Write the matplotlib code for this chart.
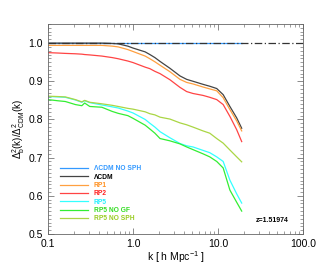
import numpy as np
import matplotlib
matplotlib.use("Agg")
import matplotlib.pyplot as plt
from matplotlib.ticker import MultipleLocator, FixedLocator, LogLocator, NullFormatter

# wavenumbers [h/Mpc]
k = [0.1, 0.13, 0.16, 0.21, 0.25, 0.27, 0.31, 0.43, 0.57, 0.67, 0.87, 1.0,
     1.39, 1.58, 1.81, 2.08, 2.72, 3.57, 4.28, 5.08, 6.66, 8.0, 9.66, 11.5,
     13.8, 16.6, 19.0]

lcdm_nosph = [1.0] * len(k)
lcdm = [1.0, 1.0, 1.0, 1.0, 1.0, 1.0, 1.0, 1.0, 0.999, 0.998, 0.992, 0.987,
        0.977, 0.970, 0.962, 0.952, 0.934, 0.914, 0.905, 0.900, 0.892, 0.887,
        0.881, 0.865, 0.834, 0.804, 0.777]
rp1 = [0.994, 0.994, 0.994, 0.994, 0.994, 0.994, 0.994, 0.994, 0.992, 0.990,
       0.983, 0.978, 0.966, 0.959, 0.951, 0.942, 0.925, 0.905, 0.897, 0.893,
       0.885, 0.880, 0.875, 0.857, 0.826, 0.796, 0.770]
rp2 = [0.975, 0.974, 0.973, 0.972, 0.971, 0.970, 0.969, 0.966, 0.962, 0.959,
       0.953, 0.949, 0.937, 0.933, 0.926, 0.920, 0.904, 0.884, 0.873, 0.868,
       0.863, 0.858, 0.852, 0.839, 0.808, 0.773, 0.742]
rp5 = [0.860, 0.859, 0.858, 0.851, 0.845, 0.849, 0.844, 0.838, 0.833, 0.830,
       0.822, 0.817, 0.800, 0.790, 0.780, 0.768, 0.752, 0.737, 0.731, 0.728,
       0.719, 0.713, 0.702, 0.690, 0.641, 0.605, 0.581]
rp5_nogf = [0.852, 0.849, 0.847, 0.839, 0.836, 0.843, 0.834, 0.832, 0.821,
            0.816, 0.810, 0.803, 0.785, 0.775, 0.764, 0.750, 0.744, 0.736,
            0.728, 0.721, 0.710, 0.702, 0.690, 0.673, 0.615, 0.583, 0.560]
rp5_nosph = [0.861, 0.860, 0.859, 0.852, 0.846, 0.850, 0.845, 0.841, 0.837,
             0.834, 0.829, 0.827, 0.820, 0.815, 0.812, 0.806, 0.801, 0.791,
             0.786, 0.780, 0.770, 0.764, 0.750, 0.738, 0.720, 0.702, 0.689]

series = [
    ("ΛCDM NO SPH", lcdm_nosph, "#3399ff"),
    ("ΛCDM", lcdm, "#444444"),
    ("RP1", rp1, "#ffa040"),
    ("RP2", rp2, "#ff4444"),
    ("RP5", rp5, "#33ffff"),
    ("RP5 NO GF", rp5_nogf, "#33ee33"),
    ("RP5 NO SPH", rp5_nosph, "#aad644"),
]
text_colors = ["#3399ff", "#000000", "#ff9020", "#ff2020", "#22eeff", "#33dd22", "#99cc22"]

plt.rcParams["font.family"] = ["Liberation Sans", "DejaVu Sans"]
plt.rcParams["mathtext.fontset"] = "custom"
plt.rcParams["mathtext.rm"] = "Liberation Sans"

fig = plt.figure(figsize=(3.19, 2.66), dpi=100)
ax = fig.add_axes([48 / 319, 1 - 234 / 266, 255 / 319, 210 / 266])

for label, vals, col in series:
    ax.plot(k, vals, color=col, lw=0.9, label=label)
ax.axhline(1.0, color="#333333", lw=0.9, ls=(0, (6, 2, 1, 2)))

ax.set_xscale("log")
ax.set_xlim(0.1, 100)
ax.set_ylim(0.5, 1.05)

ax.xaxis.set_major_locator(FixedLocator([0.1, 1, 10, 100]))
ax.set_xticklabels(["0.1", "1.0", "10.0", "100.0"])
ax.xaxis.set_minor_locator(LogLocator(base=10, subs=np.arange(2, 10)))
ax.xaxis.set_minor_formatter(NullFormatter())
ax.yaxis.set_major_locator(FixedLocator([0.5, 0.6, 0.7, 0.8, 0.9, 1.0]))
ax.set_yticklabels(["0.5", "0.6", "0.7", "0.8", "0.9", "1.0"])
ax.yaxis.set_minor_locator(MultipleLocator(0.01))

ax.tick_params(which="both", direction="in", top=True, right=True,
               labelsize=7.5, color="#777777", pad=3.5)
ax.tick_params(which="major", length=4, width=0.6)
ax.tick_params(which="minor", length=2, width=0.5)
for s in ax.spines.values():
    s.set_color("#666666")
    s.set_linewidth(0.6)

ax.set_xlabel("k [ h Mpc$^{-1}$ ]", fontsize=7.5, labelpad=0)
ax.set_ylabel(r"$\Delta^2_\mathrm{b}\mathrm{(k)/}\Delta^2_\mathrm{CDM}\mathrm{(k)}$",
              fontsize=7, labelpad=1)

leg = ax.legend(loc="lower left", bbox_to_anchor=(0.035, 0.04), frameon=False,
                fontsize=4.8, handlelength=4.2, handletextpad=0.8,
                labelspacing=0.2, borderpad=0)
for t, c in zip(leg.get_texts(), text_colors):
    t.set_color(c)
    t.set_fontweight("bold")

ax.text(0.945, 0.065, "z=1.51974", transform=ax.transAxes, fontsize=5,
        fontweight="bold", ha="right", va="center")

fig.savefig("out.png", dpi=100)
